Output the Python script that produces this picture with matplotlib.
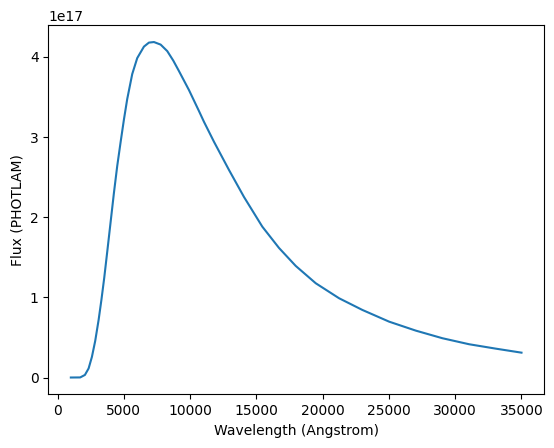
import numpy as np
import matplotlib
matplotlib.use('Agg')
import matplotlib.pyplot as plt

# wavelength [Angstrom], values
wave = [1000, 1706, 2061, 2340, 2589, 2838, 3095, 3306, 3518, 3744,
        4001, 4250, 4499, 4756, 5005, 5254, 5632, 6009, 6515, 6892,
        7270, 7775, 8274, 8727, 9157, 9912, 10667, 11044, 11799, 12932,
        14064, 15445, 16706, 17967, 19476, 21235, 22994, 25010, 27025,
        29034, 31049, 33065, 35000]

# flux [PHOTLAM], in units of 1e17
flux = [0.0, 0.001, 0.032, 0.113, 0.257, 0.456, 0.718, 0.968, 1.242, 1.566,
        1.940, 2.302, 2.638, 2.938, 3.218, 3.474, 3.786, 3.985, 4.128, 4.178,
        4.185, 4.153, 4.072, 3.954, 3.823, 3.586, 3.324, 3.190, 2.941, 2.589,
        2.252, 1.882, 1.616, 1.392, 1.176, 0.989, 0.843, 0.697, 0.585,
        0.490, 0.415, 0.360, 0.310]

x = np.array(wave)
y = np.array(flux) * 1e17

fig = plt.figure(figsize=(5.54, 4.48), dpi=100)
ax = fig.add_axes([0.0872, 0.1199, 0.8948, 0.8237])
ax.plot(x, y)
ax.set_xlabel('Wavelength (Angstrom)')
ax.set_ylabel('Flux (PHOTLAM)')

fig.savefig('out.png', dpi=100)
